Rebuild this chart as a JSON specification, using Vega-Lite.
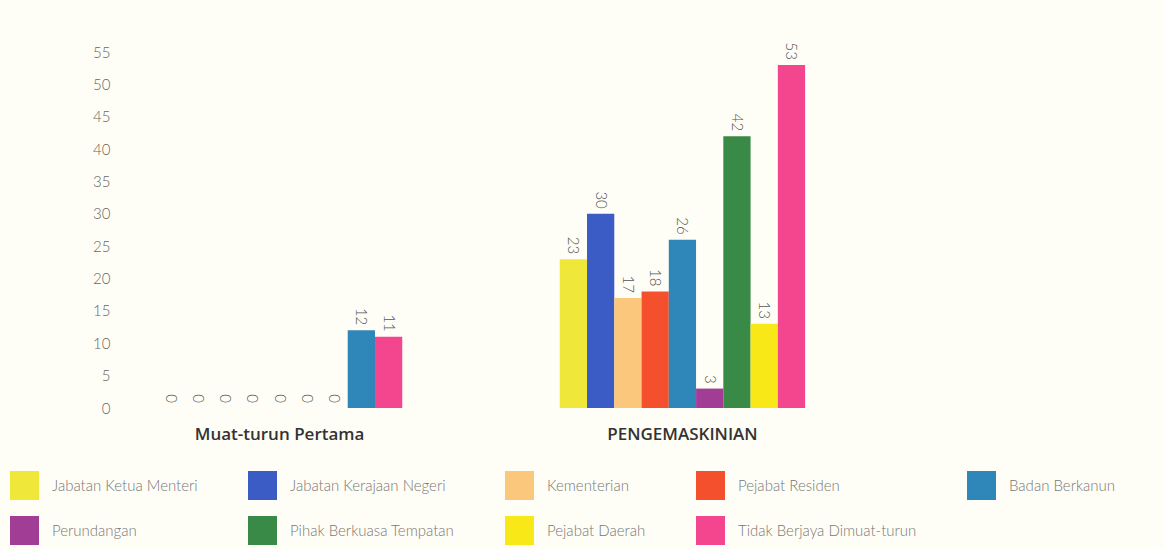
{
  "$schema": "https://vega.github.io/schema/vega-lite/v6.json",
  "autosize": {"type": "none"},
  "padding": {"left": 115, "top": 52, "right": 317, "bottom": 141},
  "width": 732,
  "height": 356,
  "background": "#fffef6",
  "config": {"view": {"stroke": null}},
  "data": {
    "values": [
      {"group": "Muat-turun Pertama", "pos": 1, "category": "Jabatan Ketua Menteri", "value": 0},
      {"group": "Muat-turun Pertama", "pos": 2, "category": "Jabatan Kerajaan Negeri", "value": 0},
      {"group": "Muat-turun Pertama", "pos": 3, "category": "Kementerian", "value": 0},
      {"group": "Muat-turun Pertama", "pos": 4, "category": "Pejabat Residen", "value": 0},
      {"group": "Muat-turun Pertama", "pos": 5, "category": "Perundangan", "value": 0},
      {"group": "Muat-turun Pertama", "pos": 6, "category": "Pihak Berkuasa Tempatan", "value": 0},
      {"group": "Muat-turun Pertama", "pos": 7, "category": "Pejabat Daerah", "value": 0},
      {"group": "Muat-turun Pertama", "pos": 8, "category": "Badan Berkanun", "value": 12},
      {"group": "Muat-turun Pertama", "pos": 9, "category": "Tidak Berjaya Dimuat-turun", "value": 11},
      {"group": "PENGEMASKINIAN", "pos": 1, "category": "Jabatan Ketua Menteri", "value": 23},
      {"group": "PENGEMASKINIAN", "pos": 2, "category": "Jabatan Kerajaan Negeri", "value": 30},
      {"group": "PENGEMASKINIAN", "pos": 3, "category": "Kementerian", "value": 17},
      {"group": "PENGEMASKINIAN", "pos": 4, "category": "Pejabat Residen", "value": 18},
      {"group": "PENGEMASKINIAN", "pos": 5, "category": "Badan Berkanun", "value": 26},
      {"group": "PENGEMASKINIAN", "pos": 6, "category": "Perundangan", "value": 3},
      {"group": "PENGEMASKINIAN", "pos": 7, "category": "Pihak Berkuasa Tempatan", "value": 42},
      {"group": "PENGEMASKINIAN", "pos": 8, "category": "Pejabat Daerah", "value": 13},
      {"group": "PENGEMASKINIAN", "pos": 9, "category": "Tidak Berjaya Dimuat-turun", "value": 53}
    ]
  },
  "encoding": {
    "x": {
      "field": "group",
      "type": "nominal",
      "sort": ["Muat-turun Pertama", "PENGEMASKINIAN"],
      "scale": {"paddingInner": 0.391, "paddingOuter": 0.104},
      "axis": {
        "title": null,
        "labelAngle": 0,
        "domain": false,
        "ticks": false,
        "labelPadding": 18,
        "labelFont": "Open Sans",
        "labelFontWeight": 600,
        "labelFontSize": 17,
        "labelColor": "#333333",
        "labelLimit": 300
      }
    },
    "xOffset": {"field": "pos", "type": "ordinal", "scale": {"paddingInner": 0, "paddingOuter": 0}},
    "y": {
      "field": "value",
      "type": "quantitative",
      "scale": {"domain": [0, 55], "nice": false},
      "axis": {
        "title": null,
        "values": [0, 5, 10, 15, 20, 25, 30, 35, 40, 45, 50, 55],
        "grid": false,
        "domain": false,
        "ticks": false,
        "labelFont": "Lato",
        "labelFontWeight": 300,
        "labelFontSize": 15,
        "labelColor": "#666666",
        "labelPadding": 5
      }
    }
  },
  "layer": [
    {
      "mark": {"type": "bar"},
      "encoding": {
        "color": {
          "field": "category",
          "type": "nominal",
          "scale": {
            "domain": ["Jabatan Ketua Menteri", "Jabatan Kerajaan Negeri", "Kementerian", "Pejabat Residen", "Badan Berkanun", "Perundangan", "Pihak Berkuasa Tempatan", "Pejabat Daerah", "Tidak Berjaya Dimuat-turun"],
            "range": ["#efe83a", "#3b5cc4", "#fbc77c", "#f5502e", "#2f86b9", "#a23d96", "#3a8a47", "#f8e818", "#f4468f"]
          },
          "legend": {
            "title": null,
            "orient": "none",
            "legendX": -105,
            "legendY": 419,
            "direction": "horizontal",
            "columns": 5,
            "symbolType": "square",
            "symbolSize": 841,
            "symbolStrokeWidth": 0,
            "labelOffset": 13,
            "rowPadding": 16,
            "columnPadding": 50,
            "labelFont": "Lato",
            "labelFontWeight": 300,
            "labelFontSize": 15,
            "labelColor": "#777777",
            "labelLimit": 300
          }
        }
      }
    },
    {
      "mark": {
        "type": "text",
        "angle": 90,
        "align": "right",
        "baseline": "middle",
        "dx": -5,
        "font": "Lato",
        "fontWeight": 300,
        "fontSize": 15,
        "color": "#555555"
      },
      "encoding": {"text": {"field": "value", "type": "quantitative"}}
    }
  ]
}
